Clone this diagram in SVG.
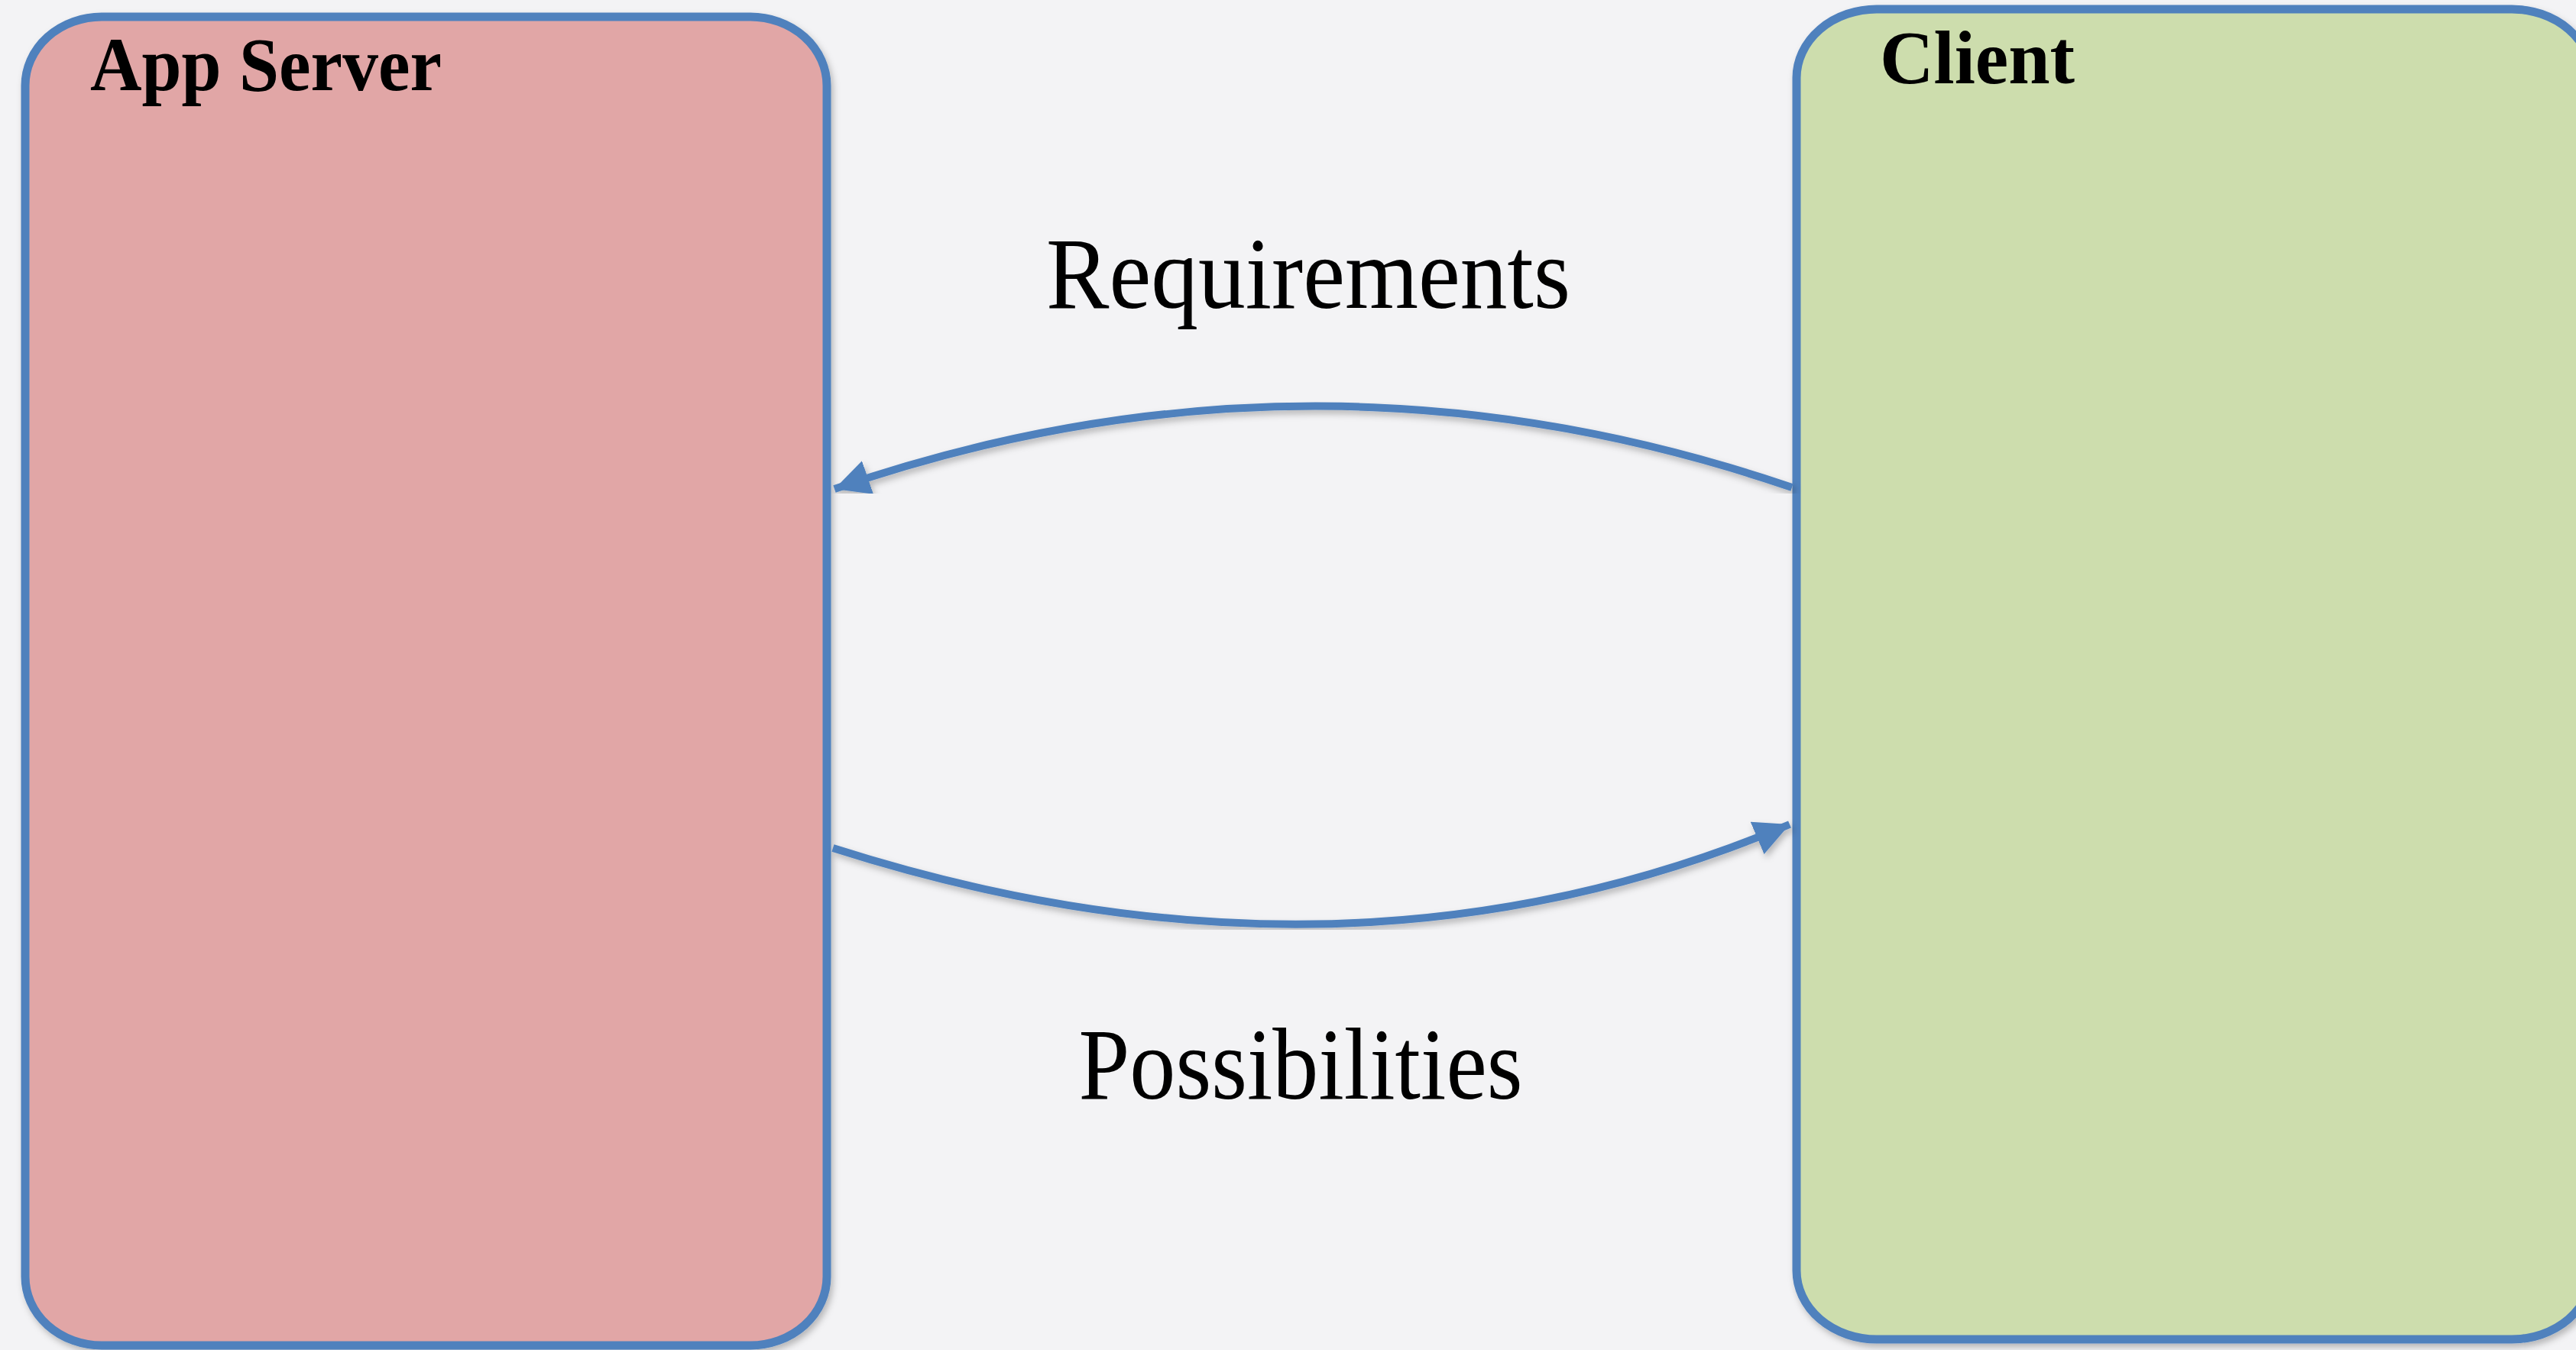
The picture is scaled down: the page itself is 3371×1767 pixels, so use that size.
<svg xmlns="http://www.w3.org/2000/svg" width="3371" height="1767" viewBox="0 0 3371 1767">
  <style>
    .box { stroke: #4F81BD; stroke-width: 11; filter: url(#shadow); }
    .title { font-family: "Liberation Serif", "Times New Roman", serif; font-weight: bold; font-size: 100px; fill: #000; }
    .label { font-family: "Liberation Serif", "Times New Roman", serif; font-size: 134px; fill: #000; text-anchor: middle; }
    .flow { fill: none; stroke: #4F81BD; stroke-width: 10; filter: url(#shadow); }
  </style>
  <defs>
    <filter id="shadow" x="-5%" y="-5%" width="110%" height="110%">
      <feDropShadow dx="3" dy="5" stdDeviation="4" flood-color="#000" flood-opacity="0.25"/>
    </filter>
    <marker id="head" markerUnits="userSpaceOnUse" markerWidth="52" markerHeight="52" refX="46" refY="23" orient="auto">
      <path d="M0,0 L46,23 L0,46 Z" fill="#4F81BD"/>
    </marker>
  </defs>

  <!-- paper background -->
  <rect x="0" y="0" width="3371" height="1767" fill="#F3F3F5"/>

  <!-- left node -->
  <g id="app-server">
    <rect class="box" x="33" y="22" width="1049" height="1739" rx="100" ry="90" fill="#E1A6A6"/>
    <text class="title" x="118" y="118" textLength="460" lengthAdjust="spacingAndGlyphs">App Server</text>
  </g>

  <!-- right node -->
  <g id="client">
    <rect class="box" x="2351" y="12" width="1041" height="1741" rx="105" ry="90" fill="#CDDDAD"/>
    <text class="title" x="2460" y="109" textLength="255" lengthAdjust="spacingAndGlyphs">Client</text>
  </g>

  <!-- connectors -->
  <g id="connectors">
    <path class="flow" d="M2345,638 Q1718,424 1092,640" marker-end="url(#head)"/>
    <path class="flow" d="M1090,1110 Q1760,1324 2342,1079" marker-end="url(#head)"/>
    <text class="label" x="1712" y="403" textLength="686" lengthAdjust="spacingAndGlyphs">Requirements</text>
    <text class="label" x="1702" y="1438" textLength="581" lengthAdjust="spacingAndGlyphs">Possibilities</text>
  </g>
</svg>
